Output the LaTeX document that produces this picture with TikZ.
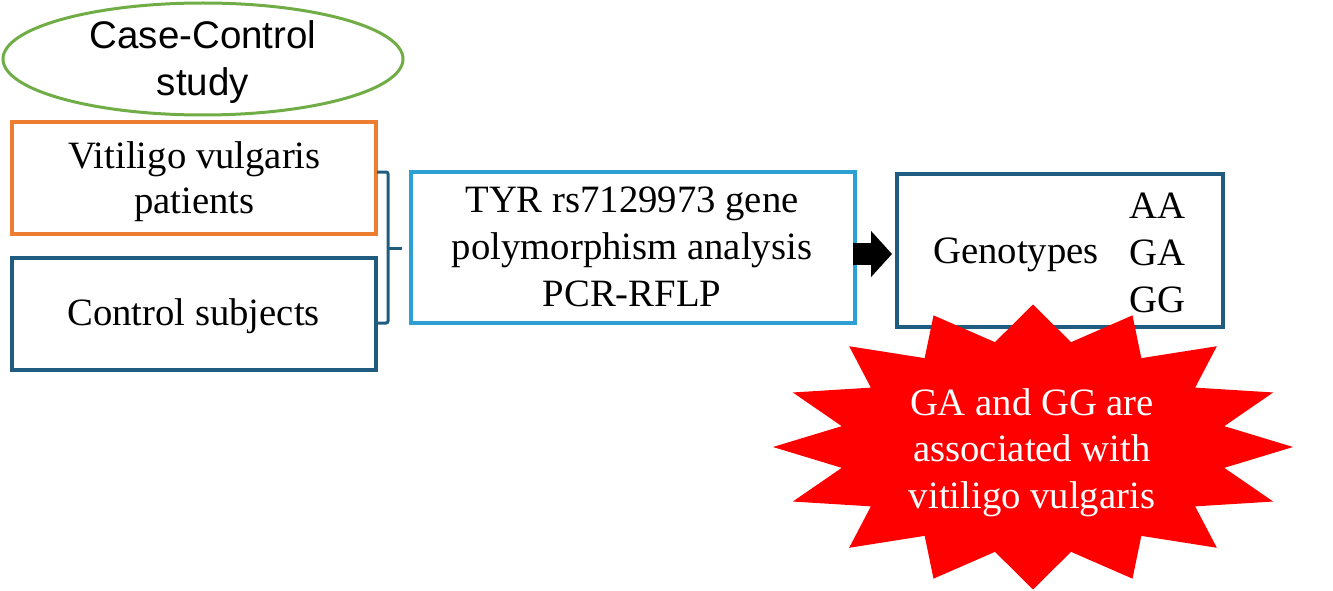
\documentclass[tikz,border=0pt]{standalone}
\usepackage{fontspec}
\setmainfont{Liberation Serif}
\newfontfamily\casefont{Liberation Sans}
\usetikzlibrary{shapes.geometric,arrows.meta}
\definecolor{cOrange}{HTML}{ED7D31}
\definecolor{cDark}{HTML}{1F5C80}
\definecolor{cLight}{HTML}{2CA0D2}
\definecolor{cGreen}{HTML}{70AD47}
\definecolor{cRed}{HTML}{FE0000}
\begin{document}
\begin{tikzpicture}[x=1pt,y=-1pt,
  box/.style={draw,line width=3.2pt,rectangle,inner sep=0pt},
  txt/.style={inner sep=0pt,align=center,font=\fontsize{38.7}{45}\selectfont},
  bracket/.style={draw=cDark,line width=3pt},
  blockarrow/.style={draw=black,line width=22pt,-{Triangle[length=21pt,width=45pt]}}]
\useasboundingbox (0,0) rectangle (1333,591);
% boxes
\node[draw=cGreen,line width=3pt,ellipse,inner sep=0pt,minimum width=400pt,minimum height=112pt] (cc) at (203,59) {};
\node[box,draw=cOrange,minimum width=364pt,minimum height=112pt] (vit) at (194,178) {};
\node[box,draw=cDark,minimum width=364pt,minimum height=112pt] (ctl) at (194,314) {};
\node[box,draw=cLight,minimum width=444pt,minimum height=151pt] (tyr) at (633,247.5) {};
\node[box,draw=cDark,minimum width=326pt,minimum height=153pt] (gen) at (1060,250.5) {};
% bracket
\coordinate (bT) at (377,172);
\coordinate (bB) at (377,323);
\coordinate (bX) at (388,248);
\coordinate (bM) at (402,248);
\draw[bracket,rounded corners=2pt] (bT) -- (bT -| bX) -- (bB -| bX) -- (bB);
\draw[bracket] (bX) -- (bM);
% block arrow
\coordinate (arrS) at (853,254);
\coordinate (arrE) at (892,254);
\draw[blockarrow] (arrS) -- (arrE);
% starburst
\coordinate (burst) at (1033,447);
\fill[cRed] (1293,447) \foreach \k in {1,...,31}{ -- ({1033+260*ifthenelse(mod(\k,2)==0,1,0.75)*cos(\k*11.25)},{447+142.5*ifthenelse(mod(\k,2)==0,1,0.75)*sin(\k*11.25)}) } -- cycle;
% texts
\node[txt,font=\casefont\fontsize{38.5}{47}\selectfont] (tcc) at (203,62) {Case-Control\\study};
\node[txt] (tvit) at (194.5,181.5) {Vitiligo vulgaris\\patients};
\node[txt] (tctl) at (193.5,316) {Control subjects};
\node[txt,font=\fontsize{38.7}{47}\selectfont] (ttyr) at (632,247) {TYR rs7129973 gene\\polymorphism analysis\\PCR-RFLP};
\node[txt] (tgen) at (1016,255) {Genotypes};
\node[txt,font=\fontsize{38.7}{47}\selectfont] (tall) at (1157.5,252.5) {AA\\GA\\GG};
\node[txt,font=\fontsize{38.7}{46.5}\selectfont,text=white] (tstar) at (1032,452.5) {GA and GG are\\associated with\\vitiligo vulgaris};
\end{tikzpicture}
\end{document}
